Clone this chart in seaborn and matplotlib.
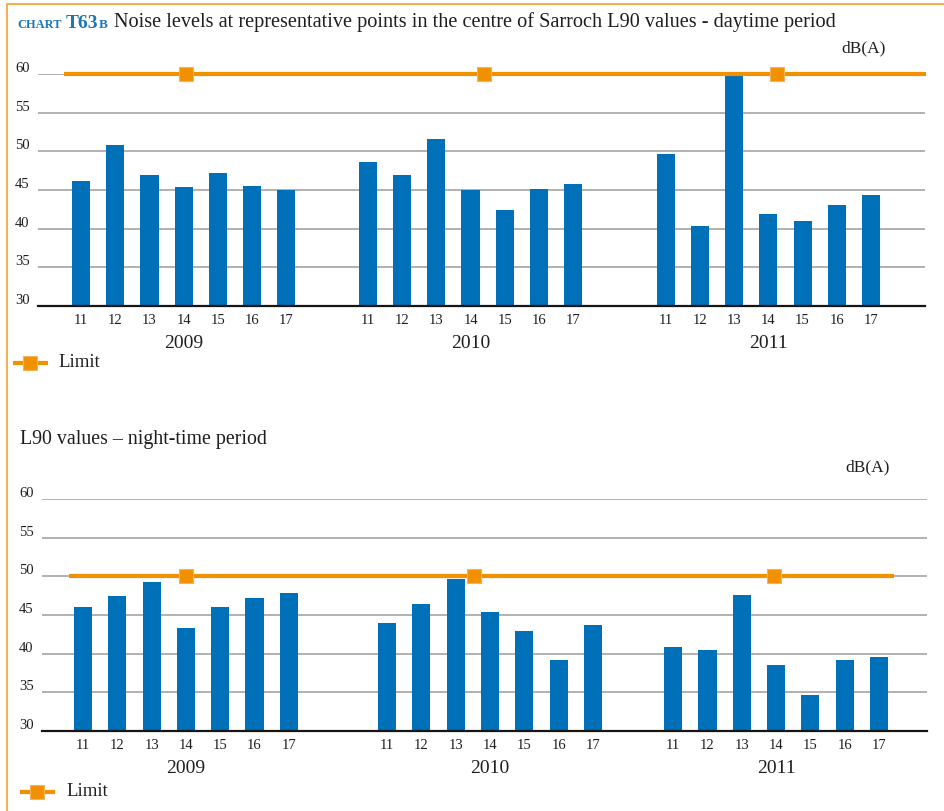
import matplotlib
matplotlib.use("Agg")
import matplotlib.pyplot as plt
from matplotlib.lines import Line2D
from matplotlib.transforms import offset_copy
import pandas as pd
import seaborn as sns

# Measurement years and monitoring points
years = ["2009", "2010", "2011"]
points = ["11", "12", "13", "14", "15", "16", "17"]

# L90 values, daytime period, dB(A)
day_2009 = [46.1, 50.8, 47.0, 45.35, 47.15, 45.5, 45.0]
day_2010 = [48.6, 46.9, 51.55, 45.0, 42.4, 45.1, 45.75]
day_2011 = [49.6, 40.4, 60.1, 41.85, 40.95, 43.0, 44.3]
day_limit = 60

# L90 values, night-time period, dB(A)
night_2009 = [46.05, 47.5, 49.3, 43.35, 46.05, 47.2, 47.85]
night_2010 = [44.0, 46.45, 49.7, 45.4, 42.95, 39.2, 43.75]
night_2011 = [40.9, 40.5, 47.6, 38.55, 34.7, 39.2, 39.6]
night_limit = 50

y_ticks = [30, 35, 40, 45, 50, 55, 60]

BLUE = "#0071B9"
TITLE_BLUE = "#1B76B8"
ORANGE = "#F29100"
FRAME = "#F4B054"
GRID = "#ABABAB"
TEXT = "#1E1E1E"

W, H = 945, 812

sns.set_theme(style="white")
plt.rcParams["font.family"] = ["Liberation Serif", "DejaVu Serif"]
plt.rcParams["text.color"] = TEXT

fig = plt.figure(figsize=(W / 100, H / 100), dpi=100)


def fx(px):
    return px / W


def fy(py):
    return 1 - py / H


def add_panel(left, right, top, bottom):
    return fig.add_axes([fx(left), fy(bottom), fx(right - left), (bottom - top) / H])


def draw_panel(ax, series, limit, starts, xmax, line_span, marker_x, bar_w):
    rows = []
    for start, year, vals in zip(starts, years, series):
        for i, (p, v) in enumerate(zip(points, vals)):
            rows.append({"pos": round(start + i, 3), "value": v, "point": p, "year": year})
    df = pd.DataFrame(rows)

    sns.barplot(data=df, x="pos", y="value", native_scale=True, orient="x",
                width=bar_w, color=BLUE, saturation=1, errorbar=None,
                linewidth=0, ax=ax, zorder=2)

    ax.set_xlim(0, xmax)
    ax.set_ylim(30, 60)
    ax.set_xlabel("")
    ax.set_ylabel("")

    # horizontal grid
    ax.set_yticks(y_ticks)
    ax.set_yticklabels([str(t) for t in y_ticks], va="bottom", fontsize=10.5, color=TEXT)
    ax.yaxis.grid(True, color=GRID, linewidth=1.3)
    ax.set_axisbelow(True)
    for s in ["left", "right", "top"]:
        ax.spines[s].set_visible(False)
    ax.spines["bottom"].set_color("#151515")
    ax.spines["bottom"].set_linewidth(1.6)
    ax.spines["bottom"].set_zorder(4)

    ax.set_xticks(df["pos"])
    ax.set_xticklabels(df["point"], fontsize=10.5, color=TEXT)
    ax.tick_params(axis="x", length=0, pad=5)
    ax.tick_params(axis="y", length=0, pad=6)

    # year labels under each group
    trans = offset_copy(ax.get_xaxis_transform(), fig=fig, y=-37, units="dots")
    for start, year in zip(starts, years):
        ax.text(start + 3, 0, year, transform=trans, ha="center", va="center",
                fontsize=14, color=TEXT)

    # limit line with square markers
    ax.plot(line_span, [limit, limit], color=ORANGE, lw=3, solid_capstyle="butt",
            clip_on=False, zorder=3)
    ax.plot(marker_x, [limit] * len(marker_x), ls="none", marker="s", ms=10,
            color=ORANGE, mec="#F6B458", mew=0.8, clip_on=False, zorder=3)


# Daytime panel
ax1 = add_panel(38, 925, 75, 307)
draw_panel(ax1, [day_2009, day_2010, day_2011], day_limit,
           starts=[1.26, 9.65, 18.36], xmax=25.94,
           line_span=[0.76, 25.97], marker_x=[4.33, 13.04, 21.6], bar_w=0.53)

# Night-time panel
ax2 = add_panel(42, 927, 500, 732)
draw_panel(ax2, [night_2009, night_2010, night_2011], night_limit,
           starts=[1.195, 10.06, 18.4], xmax=25.8,
           line_span=[0.79, 24.84], marker_x=[4.2, 12.6, 21.34], bar_w=0.53)

# Title
fig.text(fx(17), fy(27.5), "CHART", fontsize=9, fontweight="bold", color=TITLE_BLUE, va="baseline")
fig.text(fx(66), fy(27.5), "T63", fontsize=14, fontweight="bold", color=TITLE_BLUE, va="baseline")
fig.text(fx(99), fy(27.5), "B", fontsize=9.5, fontweight="bold", color=TITLE_BLUE, va="baseline")
fig.text(fx(114), fy(27.5),
         "Noise levels at representative points in the centre of Sarroch L90 values - daytime period",
         fontsize=14.6, color=TEXT, va="baseline")

fig.text(fx(20), fy(440), "L90 values \u2013 night-time period", fontsize=14.3, color=TEXT, va="center")

# Unit labels
fig.text(fx(886), fy(48), "dB(A)", fontsize=12.5, color=TEXT, ha="right", va="center")
fig.text(fx(890), fy(467), "dB(A)", fontsize=12.5, color=TEXT, ha="right", va="center")


# Legends
def legend_key(x0, x1, y, text_x):
    fig.add_artist(Line2D([fx(x0), fx(x1)], [fy(y), fy(y)], color=ORANGE, lw=3,
                          solid_capstyle="butt", transform=fig.transFigure))
    fig.add_artist(Line2D([fx((x0 + x1) / 2)], [fy(y)], ls="none", marker="s", ms=10,
                          color=ORANGE, mec="#F6B458", mew=0.8, transform=fig.transFigure))
    fig.text(fx(text_x), fy(y - 1), "Limit", fontsize=13.5, color=TEXT, va="center")


legend_key(13, 48, 364, 58)
legend_key(20, 55, 793, 66)

# Frame
fig.add_artist(Line2D([fx(7.5), fx(7.5)], [0, fy(5)], color=FRAME, lw=1.5, transform=fig.transFigure))
fig.add_artist(Line2D([fx(7.5), 1], [fy(5), fy(5)], color=FRAME, lw=1.5, transform=fig.transFigure))

fig.savefig("out.png", dpi=100)
